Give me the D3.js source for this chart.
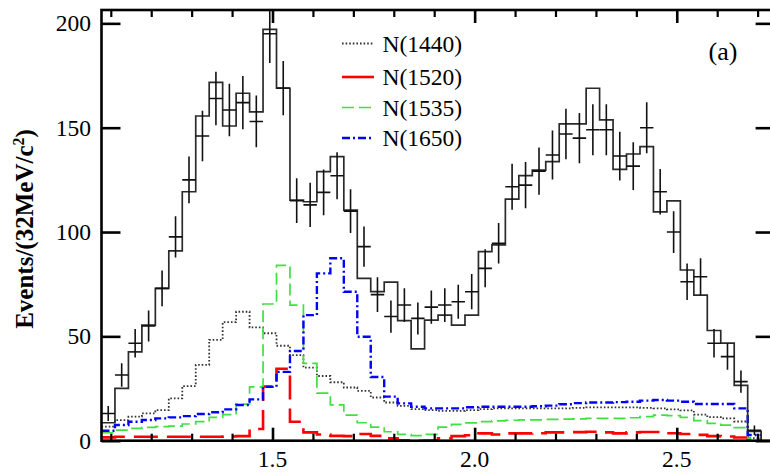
<!DOCTYPE html>
<html>
<head>
<meta charset="utf-8">
<script src="https://cdn.jsdelivr.net/npm/d3@7"></script>
<style>
  html, body { margin: 0; padding: 0; background: #fff; }
  svg { display: block; }
  text { font-family: "Liberation Serif", "DejaVu Serif", serif; fill: #000; }
</style>
</head>
<body>
<svg id="chart" width="770" height="472"></svg>
<script>
// p pi invariant-mass spectrum: 50 bins of 33.3 MeV starting at threshold
const binLow = 1.077;
const binWidth = 0.0333;

// Observed events per bin
const dataCounts = [13, 31.5, 46.7, 55, 73, 97.7, 125, 146, 164, 158.5,
  162, 153, 195, 169, 115, 113, 119, 127, 110, 93,
  70, 59.5, 65, 58.6, 64, 65, 66.6, 71.4, 82.6, 94.6,
  121.7, 122.5, 129.2, 136.9, 147, 145, 149, 149, 136.4, 131.6,
  150, 119.3, 100, 76.2, 78.6, 46.7, 40.3, 28.3, 5];

// Total fit (solid histogram)
const fitTotal = [8.6, 25.1, 42.6, 55.4, 73, 91, 119.3, 155.6, 171.7, 150.8,
  166.5, 157.6, 197.1, 168.9, 115.3, 114.5, 128.9, 136.1, 110.5, 77.8,
  71.4, 76, 57.5, 44, 57.8, 60.2, 55.4, 60.2, 90.6, 93.8,
  115.8, 127, 129.7, 133.7, 151.8, 151.8, 168.9, 153.7, 130, 137.4,
  140.9, 109.7, 114.9, 81.8, 69.8, 52.8, 46.8, 26.5, 4.5];

// Individual resonance contributions
const n1440 = [6.7, 9.9, 11.5, 13.1, 14.7, 20.3, 26.2, 36.3, 48.3, 56.8,
  61.8, 54.3, 51.5, 45.5, 41, 35, 31, 28, 25.5, 23.9,
  20.7, 18.3, 16.7, 15.1, 14.7, 14.3, 14.3, 14.7, 15.1, 15.5,
  15.5, 15.5, 15.5, 15.5, 15.5, 15.7, 16, 16, 16, 16,
  15.7, 15.5, 15, 14.5, 12.5, 11.3, 10.7, 9.2, 1.2];

const n1520 = [1.6, 1.9, 1.9, 1.9, 1.9, 1.9, 1.9, 1.9, 1.9, 2.0,
  2.2, 5.6, 26, 34.5, 9.1, 4.0, 3.0, 2.3, 2.2, 3.2,
  2.3, 1.1, 0.2, 0, 0.1, 1.2, 2.2, 2.6, 3.5, 3.0,
  3.5, 3.5, 3.6, 4.0, 4.0, 4.1, 4.3, 4.0, 3.5, 4.0,
  4.2, 4.2, 3.6, 3.2, 2.8, 2.2, 2.0, 1.5, 0.5];

const n1535 = [3.8, 5.1, 5.9, 6.4, 6.7, 7.0, 8.0, 9.1, 11.2, 12.5,
  17.5, 25.8, 65.5, 84, 65, 37.1, 22.8, 17.2, 12.3, 8.6,
  6.5, 4.3, 3.0, 2.4, 3.0, 6.5, 7.8, 8.5, 9.1, 9.5,
  9.8, 10.0, 10.0, 10.2, 10.3, 10.5, 10.7, 10.7, 10.7, 11,
  11.5, 12.3, 12, 11.2, 9.6, 8.3, 7.5, 6.3, 1.0];

const n1650 = [4.8, 7.5, 9.1, 9.9, 10.7, 11.2, 11.8, 12.8, 13.6, 15.0,
  17.1, 19.8, 25.8, 33, 43, 60.2, 80.2, 87.4, 71.4, 49.8,
  30.5, 21.1, 17.9, 16.3, 15.5, 15.5, 15.5, 16, 16.3, 16.3,
  16.3, 16.3, 16.5, 16.8, 17.5, 18, 18.3, 18.3, 18.5, 18.7,
  19.2, 19.5, 19.2, 18.7, 17.6, 17.6, 17.6, 15.5, 2.7];

const legendLabels = ["N(1440)", "N(1520)", "N(1535)", "N(1650)"];
const massTicksMajor = [1.5, 2.0, 2.5];
const massTicksMinor = [1.1, 1.2, 1.3, 1.4, 1.6, 1.7, 1.8, 1.9, 2.1, 2.2, 2.3, 2.4, 2.6, 2.7];
const eventTicks = [0, 50, 100, 150, 200];

const svg = d3.select("#chart");
const frameL = 101.5, frameR = 774.6, frameT = 10, frameB = 440.7;

const x = d3.scaleLinear().domain([1.077, 2.742]).range([frameL, frameR]);
const y = d3.scaleLinear().domain([0, 206.4]).range([frameB, frameT]);

const edges = d3.range(dataCounts.length + 1).map(i => binLow + i * binWidth);

const components = [
  { name: legendLabels[0], values: n1440, color: "#333", width: 1.8, dash: "1.6,2" },
  { name: legendLabels[1], values: n1520, color: "#ff0000", width: 2.6, dash: "24,9" },
  { name: legendLabels[2], values: n1535, color: "#40e040", width: 1.7, dash: "12,5" },
  { name: legendLabels[3], values: n1650, color: "#0000ff", width: 2.4, dash: "8,3,2,3" }
];

// keep everything plotted inside the frame
svg.append("defs").append("clipPath").attr("id", "frame-clip")
  .append("rect")
  .attr("x", frameL).attr("y", frameT)
  .attr("width", frameR - frameL).attr("height", frameB - frameT);

const plot = svg.append("g").attr("clip-path", "url(#frame-clip)");

// step histogram: one point per bin low edge, plus the closing edge
const stepLine = d3.line()
  .x(d => x(d[0]))
  .y(d => y(d[1]))
  .curve(d3.curveStepAfter);

function stepPoints(values, closeAtZero) {
  const pts = values.map((v, i) => [edges[i], v]);
  pts.push([edges[values.length], closeAtZero ? 0 : values[values.length - 1]]);
  return pts;
}

components.forEach(c => {
  plot.append("path")
    .attr("d", stepLine(stepPoints(c.values, false)))
    .attr("fill", "none")
    .attr("stroke", c.color)
    .attr("stroke-width", c.width)
    .attr("stroke-dasharray", c.dash);
});

plot.append("path")
  .attr("d", stepLine(stepPoints(fitTotal, true)))
  .attr("fill", "none")
  .attr("stroke", "#2a2a2a")
  .attr("stroke-width", 1.7);

// data points: bin-wide horizontal bar and Poisson error bar
const marks = plot.append("g").attr("stroke", "#111").attr("stroke-width", 1.6);
dataCounts.forEach((n, i) => {
  const xc = x(edges[i] + binWidth / 2);
  const err = Math.sqrt(n);
  marks.append("line")
    .attr("x1", x(edges[i])).attr("x2", x(edges[i + 1]))
    .attr("y1", y(n)).attr("y2", y(n));
  marks.append("line")
    .attr("x1", xc).attr("x2", xc)
    .attr("y1", y(Math.max(0, n - err))).attr("y2", y(n + err));
});

// frame and ticks on all four sides
function styleTicks(g, w) {
  g.select(".domain").remove();
  g.selectAll(".tick line").attr("stroke", "#000").attr("stroke-width", w);
  g.selectAll(".tick text").remove();
}
svg.append("g").attr("transform", `translate(0,${frameB})`)
  .call(d3.axisBottom(x).tickValues(massTicksMajor).tickSizeInner(-13).tickSizeOuter(0))
  .call(g => styleTicks(g, 2.6));
svg.append("g").attr("transform", `translate(0,${frameB})`)
  .call(d3.axisBottom(x).tickValues(massTicksMinor).tickSizeInner(-7).tickSizeOuter(0))
  .call(g => styleTicks(g, 2.2));
svg.append("g").attr("transform", `translate(0,${frameT})`)
  .call(d3.axisTop(x).tickValues(massTicksMajor).tickSizeInner(-13).tickSizeOuter(0))
  .call(g => styleTicks(g, 2.6));
svg.append("g").attr("transform", `translate(0,${frameT})`)
  .call(d3.axisTop(x).tickValues(massTicksMinor).tickSizeInner(-7).tickSizeOuter(0))
  .call(g => styleTicks(g, 2.2));
svg.append("g").attr("transform", `translate(${frameL},0)`)
  .call(d3.axisLeft(y).tickValues(eventTicks).tickSizeInner(-19).tickSizeOuter(0))
  .call(g => styleTicks(g, 2.6));
svg.append("g").attr("transform", `translate(${frameR},0)`)
  .call(d3.axisRight(y).tickValues(eventTicks).tickSizeInner(-19).tickSizeOuter(0))
  .call(g => styleTicks(g, 2.6));

svg.append("rect")
  .attr("x", frameL).attr("y", frameT)
  .attr("width", frameR - frameL).attr("height", frameB - frameT)
  .attr("fill", "none").attr("stroke", "#000").attr("stroke-width", 2.6);

// tick labels
svg.append("g").selectAll("text").data(eventTicks).join("text")
  .attr("x", 91).attr("y", d => y(d))
  .attr("dy", "0.34em")
  .attr("text-anchor", "end")
  .attr("font-size", 23.5)
  .text(d => d);
svg.append("g").selectAll("text").data(massTicksMajor).join("text")
  .attr("x", d => x(d)).attr("y", 467.3)
  .attr("text-anchor", "middle")
  .attr("font-size", 23.5)
  .text(d => d.toFixed(1));

// y-axis title
const yTitle = svg.append("text")
  .attr("transform", "translate(33,229) rotate(-90)")
  .attr("text-anchor", "middle")
  .attr("font-size", 25)
  .attr("font-weight", "bold");
yTitle.append("tspan").text("Events/(32MeV/c");
yTitle.append("tspan").attr("dy", -9).attr("font-size", 16).text("2");
yTitle.append("tspan").attr("dy", 9).text(")");

// panel tag
svg.append("text")
  .attr("x", 723).attr("y", 60)
  .attr("text-anchor", "middle")
  .attr("font-size", 26)
  .text("(a)");

// legend
const legendRows = [43.5, 77, 107.5, 138];
const lg = svg.append("g");
components.forEach((c, i) => {
  lg.append("line")
    .attr("x1", 342).attr("x2", 374)
    .attr("y1", legendRows[i]).attr("y2", legendRows[i])
    .attr("stroke", c.color)
    .attr("stroke-width", c.width)
    .attr("stroke-dasharray", i === 1 ? null : c.dash);
  lg.append("text")
    .attr("x", 382.5).attr("y", legendRows[i])
    .attr("dy", "0.35em")
    .attr("font-size", 23.5)
    .text(c.name);
});
</script>
</body>
</html>
